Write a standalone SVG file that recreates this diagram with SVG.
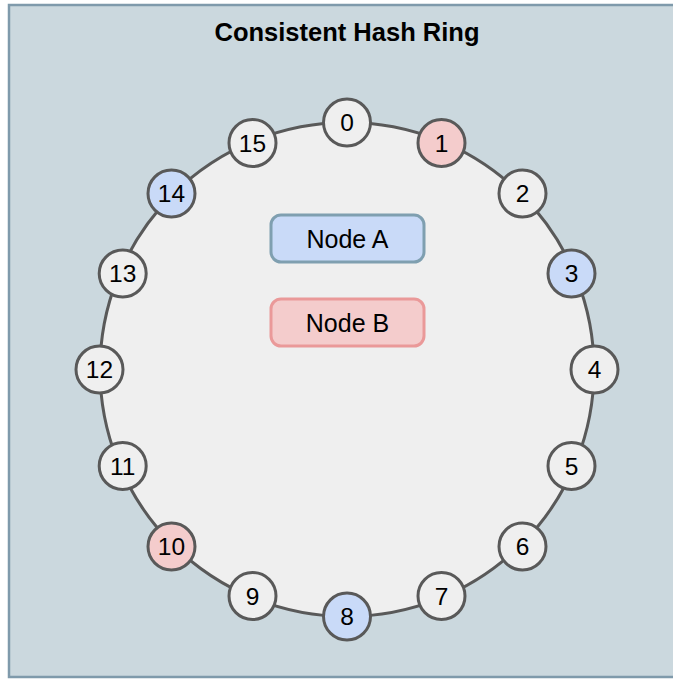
<svg xmlns="http://www.w3.org/2000/svg" width="673" height="679" viewBox="0 0 673 679">
<style>
.t{font-family:"Liberation Sans",Arial,sans-serif;fill:#000}
.num{font-size:24.5px;text-anchor:middle;dominant-baseline:central}
.lbl{font-size:25px;text-anchor:middle;dominant-baseline:central}
.hn{stroke:#595959;stroke-width:3}
.g{fill:#efefef}.p{fill:#f4cccc}.b{fill:#c9daf8}
</style>
<rect x="9" y="5" width="680" height="672" fill="#cbd8de" stroke="#7f9aab" stroke-width="2.5"/>
<text class="t" x="347" y="41" font-size="25.5" font-weight="bold" text-anchor="middle">Consistent Hash Ring</text>
<g id="connectors">
<circle id="ring" cx="347" cy="369.5" r="247" fill="#efefef" stroke="#595959" stroke-width="3"/>
</g>
<g id="node-a"><rect x="271" y="215" width="153" height="47" rx="10" fill="#c9daf8" stroke="#7f9fb0" stroke-width="3"/><text class="t lbl" x="347.5" y="239">Node A</text></g>
<g id="node-b"><rect x="271" y="299" width="153" height="47" rx="10" fill="#f4cccc" stroke="#ea9999" stroke-width="3"/><text class="t lbl" x="347.5" y="323">Node B</text></g>
<g id="h0"><circle class="hn g" cx="347" cy="122.5" r="23.5"/><text class="t num" x="347" y="122.5">0</text></g>
<g id="h1"><circle class="hn p" cx="441.5" cy="143" r="23.5"/><text class="t num" x="441.5" y="143">1</text></g>
<g id="h2"><circle class="hn g" cx="522.5" cy="193.5" r="23.5"/><text class="t num" x="522.5" y="193.5">2</text></g>
<g id="h3"><circle class="hn b" cx="571.5" cy="273.5" r="23.5"/><text class="t num" x="571.5" y="273.5">3</text></g>
<g id="h4"><circle class="hn g" cx="594.5" cy="369.5" r="23.5"/><text class="t num" x="594.5" y="369.5">4</text></g>
<g id="h5"><circle class="hn g" cx="571.5" cy="466" r="23.5"/><text class="t num" x="571.5" y="466">5</text></g>
<g id="h6"><circle class="hn g" cx="522.5" cy="546.5" r="23.5"/><text class="t num" x="522.5" y="546.5">6</text></g>
<g id="h7"><circle class="hn g" cx="441.5" cy="596" r="23.5"/><text class="t num" x="441.5" y="596">7</text></g>
<g id="h8"><circle class="hn b" cx="347" cy="616.5" r="23.5"/><text class="t num" x="347" y="616.5">8</text></g>
<g id="h9"><circle class="hn g" cx="252.5" cy="596" r="23.5"/><text class="t num" x="252.5" y="596">9</text></g>
<g id="h10"><circle class="hn p" cx="171.5" cy="546.5" r="23.5"/><text class="t num" x="171.5" y="546.5">10</text></g>
<g id="h11"><circle class="hn g" cx="122.7" cy="466" r="23.5"/><text class="t num" x="122.7" y="466">11</text></g>
<g id="h12"><circle class="hn g" cx="99.5" cy="369.5" r="23.5"/><text class="t num" x="99.5" y="369.5">12</text></g>
<g id="h13"><circle class="hn g" cx="122.7" cy="273.5" r="23.5"/><text class="t num" x="122.7" y="273.5">13</text></g>
<g id="h14"><circle class="hn b" cx="171.5" cy="193.5" r="23.5"/><text class="t num" x="171.5" y="193.5">14</text></g>
<g id="h15"><circle class="hn g" cx="252.5" cy="143" r="23.5"/><text class="t num" x="252.5" y="143">15</text></g>
</svg>
